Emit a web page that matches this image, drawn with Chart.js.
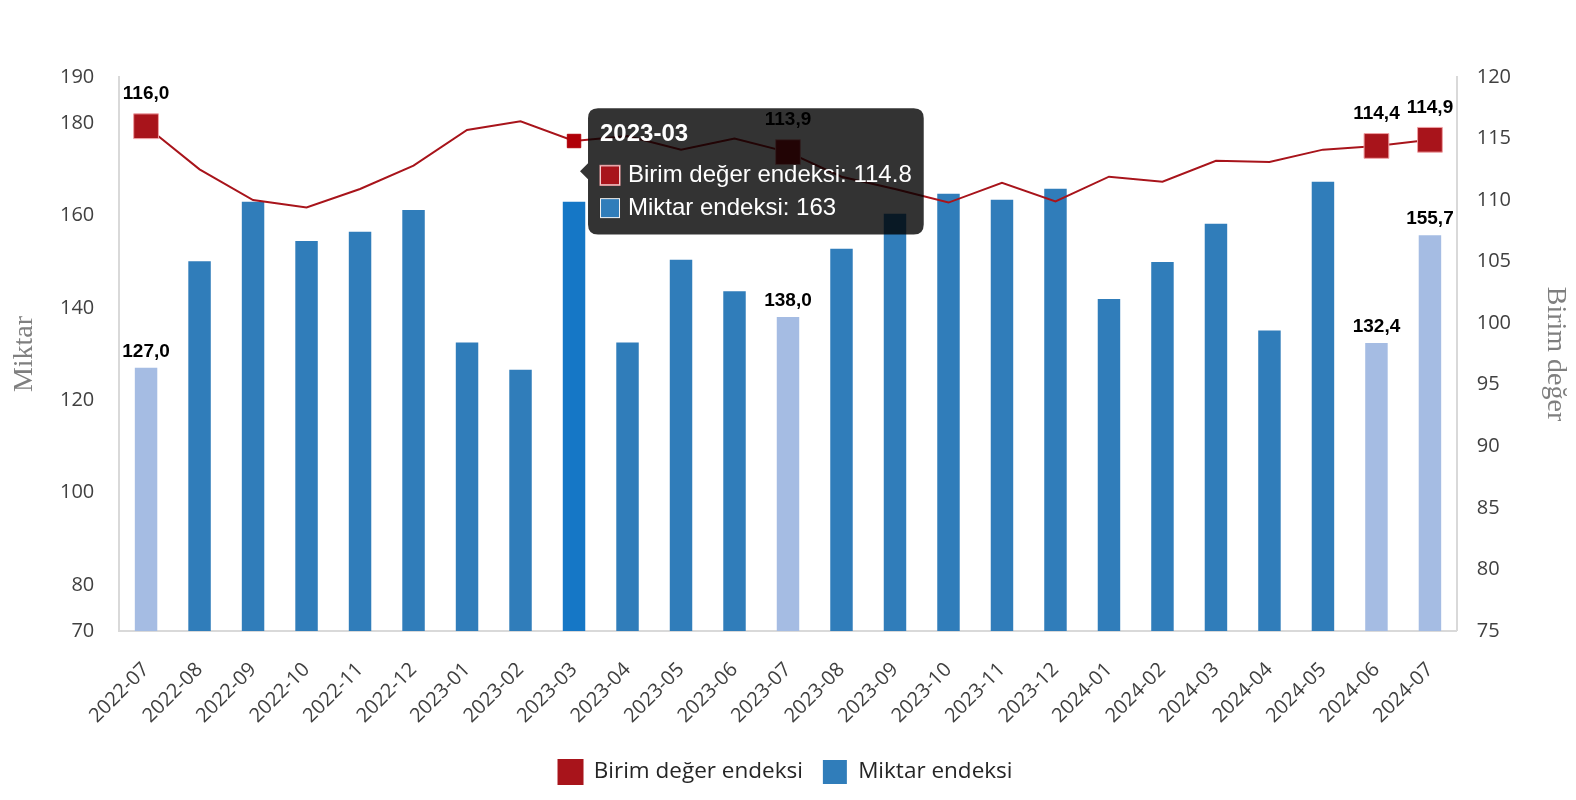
<!DOCTYPE html>
<html>
<head>
<meta charset="utf-8">
<script src="https://cdn.jsdelivr.net/npm/chart.js@4.4.1/dist/chart.umd.min.js"></script>
<style>
  html, body { margin: 0; padding: 0; background: #fff; }
</style>
</head>
<body>
<canvas id="myChart" width="1576" height="800"></canvas>
<script>
// months on the x axis
var months = ['2022-07', '2022-08', '2022-09', '2022-10', '2022-11', '2022-12',
  '2023-01', '2023-02', '2023-03', '2023-04', '2023-05', '2023-06', '2023-07',
  '2023-08', '2023-09', '2023-10', '2023-11', '2023-12', '2024-01', '2024-02',
  '2024-03', '2024-04', '2024-05', '2024-06', '2024-07'];

// Miktar endeksi (bars, left axis)
var miktar = [127.0, 150.1, 163.0, 154.5, 156.5, 161.2, 132.5, 126.6, 163, 132.5,
  150.4, 143.6, 138.0, 152.8, 160.4, 164.7, 163.4, 165.8, 141.9, 149.9,
  158.2, 135.1, 167.3, 132.4, 155.7];

// Birim değer endeksi (line, right axis)
var birim = [116.0, 112.5, 110.0, 109.4, 110.9, 112.8, 115.7, 116.4, 114.8, 115.2,
  114.1, 115.0, 113.9, 111.9, 110.9, 109.8, 111.4, 109.9, 111.9, 111.5,
  113.2, 113.1, 114.1, 114.4, 114.9];

// months that get labels + big markers
var marked = [0, 12, 23, 24];
var hoverIndex = 8;

var leftTicks = [70, 80, 100, 120, 140, 160, 180, 190];
var rightTicks = [75, 80, 85, 90, 95, 100, 105, 110, 115, 120];

var red = '#a8141b';
var blue = '#307dba';
var lightBlue = '#a5bce3';
var hoverBlue = '#1577c6';
var tickFont = { family: '"Open Sans", sans-serif', size: 20 };

function comma(v) {
  return v.toFixed(1).replace('.', ',');
}

// value labels over marked bars / points
var valueLabels = {
  id: 'valueLabels',
  afterDatasetsDraw: function(chart) {
    var ctx = chart.ctx;
    var lineMeta = chart.getDatasetMeta(0);
    var barMeta = chart.getDatasetMeta(1);
    ctx.save();
    ctx.font = 'bold 19px "Liberation Sans", Arial, sans-serif';
    ctx.fillStyle = '#000';
    ctx.textAlign = 'center';
    ctx.textBaseline = 'alphabetic';
    marked.forEach(function(i) {
      var b = barMeta.data[i];
      var p = lineMeta.data[i];
      ctx.fillText(comma(miktar[i]), b.x, b.y - 11);
      ctx.fillText(comma(birim[i]), p.x, p.y - 27);
    });
    ctx.restore();
  }
};

// axis titles (serif, grey)
var sideTitles = {
  id: 'sideTitles',
  beforeDatasetsDraw: function(chart) {
    var ctx = chart.ctx;
    var midY = (chart.chartArea.top + chart.chartArea.bottom) / 2;
    [['Miktar', 25, -1], ['Birim değer', 1555, 1]].forEach(function(t) {
      ctx.save();
      ctx.font = '28px "Liberation Serif", "Times New Roman", serif';
      ctx.fillStyle = '#7f7f7f';
      ctx.textAlign = 'center';
      ctx.textBaseline = 'middle';
      ctx.translate(t[1], midY);
      ctx.rotate(t[2] * Math.PI / 2);
      ctx.fillText(t[0], 0, 0);
      ctx.restore();
    });
  }
};

var ctx = document.getElementById('myChart').getContext('2d');
var myChart = new Chart(ctx, {
  type: 'bar',
  data: {
    labels: months,
    datasets: [{
      type: 'line',
      label: 'Birim değer endeksi',
      data: birim,
      yAxisID: 'y1',
      borderColor: red,
      backgroundColor: red,
      borderWidth: 2,
      tension: 0,
      pointStyle: 'rect',
      pointRadius: function(c) { return marked.indexOf(c.dataIndex) >= 0 ? 17.5 : 0; },
      pointBackgroundColor: red,
      pointBorderColor: '#f0a0a4',
      pointBorderWidth: 1,
      pointHoverRadius: 9.5,
      pointHoverBackgroundColor: '#b00008',
      pointHoverBorderColor: '#b00008',
      pointHoverBorderWidth: 1
    }, {
      label: 'Miktar endeksi',
      data: miktar,
      yAxisID: 'y',
      backgroundColor: function(c) {
        return (c.type === 'data' && marked.indexOf(c.dataIndex) >= 0) ? lightBlue : blue;
      },
      hoverBackgroundColor: hoverBlue,
      borderWidth: 0,
      barPercentage: 0.42,
      categoryPercentage: 1.0
    }]
  },
  options: {
    responsive: false,
    devicePixelRatio: 1,
    animation: false,
    locale: 'en-US',
    layout: { padding: { left: 60, right: 65, top: 77, bottom: 6 } },
    scales: {
      x: {
        grid: { display: false, tickLength: 15 },
        border: { display: true, color: '#d9d9d9', width: 2 },
        ticks: { color: '#404040', font: tickFont, maxRotation: 45, minRotation: 45, padding: 12, autoSkip: false }
      },
      y: {
        position: 'left',
        min: 70,
        max: 190,
        afterBuildTicks: function(scale) {
          scale.ticks = leftTicks.map(function(v) { return { value: v }; });
        },
        grid: { display: false, tickLength: 25 },
        border: { display: true, color: '#d9d9d9', width: 2 },
        ticks: { color: '#404040', font: tickFont, padding: 0 }
      },
      y1: {
        position: 'right',
        min: 75,
        max: 120,
        afterBuildTicks: function(scale) {
          scale.ticks = rightTicks.map(function(v) { return { value: v }; });
        },
        grid: { display: false, tickLength: 20 },
        border: { display: true, color: '#d9d9d9', width: 2 },
        ticks: { color: '#404040', font: tickFont, padding: 0 }
      }
    },
    plugins: {
      legend: {
        position: 'bottom',
        labels: {
          boxWidth: 24,
          boxHeight: 24,
          padding: 20,
          color: '#262626',
          font: { family: '"Open Sans", sans-serif', size: 22.5 },
          generateLabels: function(chart) {
            var items = Chart.defaults.plugins.legend.labels.generateLabels(chart);
            items[1].fillStyle = blue;
            items[1].strokeStyle = blue;
            return items;
          }
        }
      },
      tooltip: {
        mode: 'index',
        intersect: false,
        backgroundColor: 'rgba(0,0,0,0.8)',
        titleColor: '#fff',
        bodyColor: '#fff',
        titleFont: { family: '"Liberation Sans", Arial, sans-serif', size: 24, weight: 'bold' },
        bodyFont: { family: '"Liberation Sans", Arial, sans-serif', size: 24 },
        padding: 12,
        cornerRadius: 10,
        caretSize: 8,
        caretPadding: 6,
        titleMarginBottom: 12,
        bodySpacing: 4,
        boxWidth: 20,
        boxHeight: 20,
        boxPadding: 6
      }
    }
  },
  plugins: [valueLabels, sideTitles]
});

// show the tooltip for 2023-03 like in the screenshot
var active = [{ datasetIndex: 0, index: hoverIndex }, { datasetIndex: 1, index: hoverIndex }];
myChart.setActiveElements(active);
myChart.tooltip.setActiveElements(active, { x: 0, y: 0 });
myChart.update();
</script>
</body>
</html>
